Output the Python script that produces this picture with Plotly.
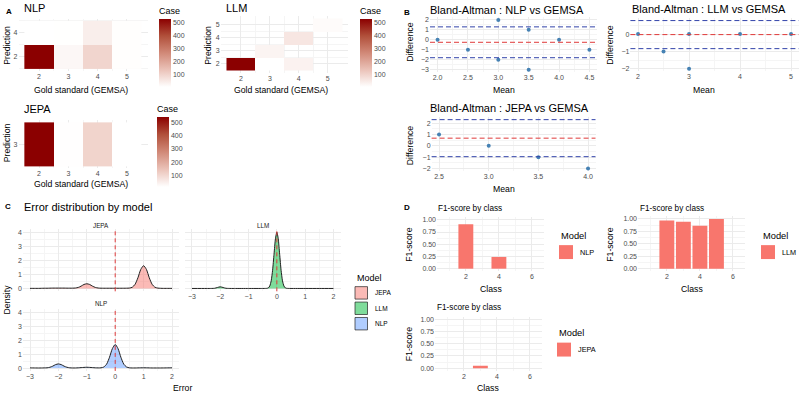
import plotly.graph_objects as go

W, H = 800, 394
FONT = "Liberation Sans, Arial, sans-serif"
GRID = "#EBEBEB"
GRID_MINOR = "#F5F5F5"
TICK_COLOR = "#4D4D4D"


def fx(p):
    return p / W


def fy(p):
    return 1 - p / H


# ---------------- data ----------------
# A: confusion heatmaps (rows = prediction, columns = gold standard)
gold_levels = [2, 3, 4, 5]

nlp_pred_levels = [2, 4]
nlp_cases = [
    [530, 20, 95, 6],
    [3, 4, 40, 6],
]
llm_pred_levels = [2, 3, 4, 5]
llm_cases = [
    [530, 6, 35, None],
    [None, 30, None, None],
    [None, None, 60, None],
    [None, None, None, 15],
]
jepa_pred_levels = [3]
jepa_cases = [[536, 12, 105, 10]]
case_ticks = [100, 200, 300, 400, 500]

# B: Bland-Altman
ba_nlp_mean = [2.0, 2.5, 3.0, 3.0, 3.5, 3.5, 4.0, 4.5]
ba_nlp_diff = [0, -1, 2, -2, 1, -3, 0, -1]
ba_nlp_bias = -0.25
ba_nlp_loa = [1.3, -1.8]

ba_llm_mean = [2.0, 2.5, 3.0, 3.0, 4.0, 5.0]
ba_llm_diff = [0, -1, 0, -2, 0, 0]
ba_llm_bias = -0.03
ba_llm_loa = [0.78, -0.84]

ba_jepa_mean = [2.5, 3.0, 3.5, 4.0]
ba_jepa_diff = [1, 0, -1, -2]
ba_jepa_bias = 0.67
ba_jepa_loa = [2.3, -0.96]

# C: error density curves
models = ["JEPA", "LLM", "NLP"]
err_zero = 0
jepa_err_x = [-3.0, -2.9, -2.8, -2.7, -2.6, -2.5, -2.4, -2.3, -2.2, -2.1, -2.0, -1.9, -1.8, -1.7, -1.6,
              -1.5, -1.4, -1.3, -1.2, -1.1, -1.0, -0.9, -0.8, -0.7, -0.6, -0.5, -0.4, -0.3, -0.2, -0.1,
              0.0, 0.1, 0.2, 0.3, 0.4, 0.5, 0.6, 0.7, 0.8, 0.9, 1.0, 1.1, 1.2, 1.3, 1.4, 1.5, 1.6, 1.7,
              1.8, 1.9, 2.0]
jepa_density = [0.01, 0.01, 0.01, 0.01, 0.015, 0.02, 0.02, 0.025, 0.03, 0.03, 0.03, 0.03, 0.03, 0.025, 0.025,
                0.025, 0.035, 0.077, 0.17, 0.29, 0.34, 0.29, 0.17, 0.077, 0.035, 0.022, 0.02, 0.02, 0.02, 0.02,
                0.02, 0.02, 0.02, 0.02, 0.022, 0.032, 0.09, 0.30, 0.77, 1.37, 1.64, 1.37, 0.77, 0.30, 0.09, 0.03,
                0.015, 0.01, 0.01, 0.01, 0.01]

llm_err_x = [-3.0, -2.5, -2.3, -2.2, -2.1, -2.0, -1.9, -1.8, -1.7, -1.5, -1.0, -0.5, -0.4, -0.35, -0.3,
             -0.25, -0.2, -0.15, -0.1, -0.05, 0.0, 0.05, 0.1, 0.15, 0.2, 0.25, 0.3, 0.35, 0.4, 0.5, 1.0,
             1.5, 2.0]
llm_density = [0.003, 0.003, 0.005, 0.016, 0.073, 0.12, 0.073, 0.016, 0.005, 0.003, 0.003, 0.003, 0.006,
               0.012, 0.045, 0.18, 0.55, 1.31, 2.46, 3.57, 4.05, 3.57, 2.46, 1.31, 0.55, 0.18, 0.045, 0.012,
               0.006, 0.003, 0.003, 0.003, 0.003]

nlp_err_x = jepa_err_x
nlp_density = [0.015, 0.013, 0.01, 0.008, 0.01, 0.015, 0.02, 0.06, 0.14, 0.25, 0.30, 0.25, 0.14, 0.06, 0.02,
               0.01, 0.01, 0.02, 0.035, 0.05, 0.06, 0.05, 0.035, 0.02, 0.015, 0.02, 0.08, 0.29, 0.78, 1.40,
               1.70, 1.40, 0.78, 0.29, 0.08, 0.02, 0.01, 0.01, 0.015, 0.02, 0.022, 0.02, 0.015, 0.01, 0.01,
               0.01, 0.01, 0.012, 0.015, 0.018, 0.02]

# D: F1-score by class
f1_class_limits = [1, 6]
f1_nlp_class = [2, 4]
f1_nlp = [0.91, 0.24]
f1_llm_class = [2, 3, 4, 5]
f1_llm = [0.97, 0.94, 0.86, 1.00]
f1_jepa_class = [3]
f1_jepa = [0.05]
f1_class_ticks = [2, 4, 6]
f1_score_ticks = [0, 0.25, 0.5, 0.75, 1.0]

# ---------------- styling helpers ----------------
HEAT_CS = [[0, "#FFFFFF"], [0.25, "#EBC3B9"], [0.5, "#D18978"], [0.75, "#B1503B"], [1, "#8B0000"]]
MODEL_FILL = {"JEPA": "rgba(248,118,109,0.5)", "LLM": "rgba(0,186,56,0.5)", "NLP": "rgba(97,156,255,0.5)"}
BAR_COLOR = "#F8766D"
RED = "#E03A3A"
BLUE = "#3344AA"
POINT = "#4682B4"
BAR_W = 0.9


def expand(lo, hi, m=0.05):
    r = hi - lo
    return [lo - m * r, hi + m * r]


def tile_range(levels):
    res = min([b - a for a, b in zip(levels[:-1], levels[1:])], default=1)
    return expand(min(levels) - res / 2, max(levels) + res / 2)


def xaxis(l, r, rng, ticks, anchor, show=True, minor=None, fmt=None):
    d = dict(domain=[fx(l), fx(r)], range=rng, tickvals=ticks, showticklabels=show, anchor=anchor,
             showgrid=True, gridcolor=GRID, gridwidth=0.8, zeroline=False, showline=False, ticks="",
             tickfont=dict(size=7, color=TICK_COLOR, family=FONT), fixedrange=True)
    if minor is not None:
        d["minor"] = dict(tickvals=minor, showgrid=True, gridcolor=GRID_MINOR, gridwidth=0.5, ticks="")
    if fmt:
        d["tickformat"] = fmt
    return d


def yaxis(t, b, rng, ticks, anchor, show=True, minor=None, fmt=None):
    d = xaxis(0, 0, rng, ticks, anchor, show, minor, fmt)
    d["domain"] = [fy(b), fy(t)]
    return d


fig = go.Figure()

# ---------------- A: heatmaps ----------------
def heat(z, y, xa, ya, cb_x, cb_top, cb_len):
    return go.Heatmap(
        z=z, x=gold_levels, y=y, xaxis=xa, yaxis=ya, colorscale=HEAT_CS, hoverongaps=False,
        colorbar=dict(
            title=dict(text="Case", side="top", font=dict(size=9, color="black", family=FONT)),
            x=fx(cb_x), xanchor="left", y=fy(cb_top), yanchor="top", len=cb_len, lenmode="pixels",
            thickness=12, thicknessmode="pixels", outlinewidth=0, ticks="", tickvals=case_ticks,
            tickfont=dict(size=7, color=TICK_COLOR, family=FONT), xpad=0, ypad=0),
    )


fig.add_trace(heat(nlp_cases, nlp_pred_levels, "x", "y", 159, 3, 83))
fig.add_trace(heat(llm_cases, llm_pred_levels, "x2", "y2", 360, 3, 83))
fig.add_trace(heat(jepa_cases, jepa_pred_levels, "x3", "y3", 157, 102, 85))

# ---------------- B: Bland-Altman ----------------
def ba_points(mx, dy, xa, ya):
    return go.Scatter(x=mx, y=dy, mode="markers", xaxis=xa, yaxis=ya, showlegend=False,
                      marker=dict(color=POINT, size=4, line=dict(width=0)))


fig.add_trace(ba_points(ba_nlp_mean, ba_nlp_diff, "x4", "y4"))
fig.add_trace(ba_points(ba_llm_mean, ba_llm_diff, "x5", "y5"))
fig.add_trace(ba_points(ba_jepa_mean, ba_jepa_diff, "x6", "y6"))

# ---------------- C: density ----------------
def dens(xv, yv, name, xa, ya):
    return go.Scatter(x=xv, y=yv, mode="lines", xaxis=xa, yaxis=ya, fill="tozeroy",
                      fillcolor=MODEL_FILL[name], line=dict(color="#222222", width=1, shape="spline",
                                                            smoothing=0.6),
                      showlegend=False, name=name)


fig.add_trace(dens(jepa_err_x, jepa_density, "JEPA", "x7", "y7"))
fig.add_trace(dens(llm_err_x, llm_density, "LLM", "x8", "y8"))
fig.add_trace(dens(nlp_err_x, nlp_density, "NLP", "x9", "y9"))

# ---------------- D: F1 bars ----------------
def f1bar(cx, v, name, xa, ya):
    return go.Bar(x=cx, y=v, name=name, xaxis=xa, yaxis=ya, width=BAR_W, showlegend=False,
                  marker=dict(color=BAR_COLOR, line=dict(width=0)))


fig.add_trace(f1bar(f1_nlp_class, f1_nlp, "NLP", "x10", "y10"))
fig.add_trace(f1bar(f1_llm_class, f1_llm, "LLM", "x11", "y11"))
fig.add_trace(f1bar(f1_jepa_class, f1_jepa, "JEPA", "x12", "y12"))

# ---------------- axes ----------------
hx = tile_range(gold_levels)
gmin = [2.5, 3.5, 4.5]
layout_axes = {}
layout_axes["xaxis"] = xaxis(18.5, 147.5, hx, gold_levels, "y", minor=gmin)
layout_axes["yaxis"] = yaxis(17.6, 70.4, tile_range(nlp_pred_levels), nlp_pred_levels, "x", minor=[1, 3, 5])
layout_axes["xaxis2"] = xaxis(220.7, 348, hx, gold_levels, "y2", minor=gmin)
layout_axes["yaxis2"] = yaxis(15, 72, tile_range(llm_pred_levels), llm_pred_levels, "x2", minor=gmin)
layout_axes["xaxis3"] = xaxis(18.5, 147.5, hx, gold_levels, "y3", minor=gmin)
layout_axes["yaxis3"] = yaxis(119.8, 168.2, tile_range(jepa_pred_levels), jepa_pred_levels, "x3")


def ba_y(diff, bias, loa):
    vals = list(diff) + [bias] + list(loa)
    return expand(min(vals), max(vals))


layout_axes["xaxis4"] = xaxis(430, 597, expand(min(ba_nlp_mean), max(ba_nlp_mean)),
                              [2.0, 2.5, 3.0, 3.5, 4.0, 4.5], "y4", fmt=".1f",
                              minor=[2.25, 2.75, 3.25, 3.75, 4.25])
layout_axes["yaxis4"] = yaxis(16.5, 71.5, ba_y(ba_nlp_diff, ba_nlp_bias, ba_nlp_loa), [-3, -2, -1, 0, 1, 2],
                              "x4", minor=[-2.5, -1.5, -0.5, 0.5, 1.5])
layout_axes["xaxis5"] = xaxis(630.4, 798.7, expand(min(ba_llm_mean), max(ba_llm_mean)), [2, 3, 4, 5], "y5",
                              minor=[2.5, 3.5, 4.5])
layout_axes["yaxis5"] = yaxis(17.25, 70.5, ba_y(ba_llm_diff, ba_llm_bias, ba_llm_loa), [-2, -1, 0], "x5",
                              minor=[-1.5, -0.5, 0.5])
layout_axes["xaxis6"] = xaxis(431.6, 595.5, expand(min(ba_jepa_mean), max(ba_jepa_mean)),
                              [2.5, 3.0, 3.5, 4.0], "y6", fmt=".1f", minor=[2.75, 3.25, 3.75])
layout_axes["yaxis6"] = yaxis(116.8, 170.8, ba_y(ba_jepa_diff, ba_jepa_bias, ba_jepa_loa), [-2, -1, 0, 1, 2],
                              "x6", minor=[-1.5, -0.5, 0.5, 1.5])

err_rng = expand(-3, 2)
dens_rng = expand(0, max(max(jepa_density), max(llm_density), max(nlp_density)))
err_ticks = [-3, -2, -1, 0, 1, 2]
err_minor = [-2.5, -1.5, -0.5, 0.5, 1.5]
d_ticks = [0, 1, 2, 3, 4]
d_minor = [0.5, 1.5, 2.5, 3.5]
layout_axes["xaxis7"] = xaxis(22.9, 179.1, err_rng, err_ticks, "y7", show=False, minor=err_minor)
layout_axes["yaxis7"] = yaxis(229.5, 291.8, dens_rng, d_ticks, "x7", minor=d_minor)
layout_axes["xaxis8"] = xaxis(184.9, 340.5, err_rng, err_ticks, "y8", minor=err_minor)
layout_axes["yaxis8"] = yaxis(229.5, 291.8, dens_rng, d_ticks, "x8", show=False, minor=d_minor)
layout_axes["xaxis9"] = xaxis(22.9, 179.1, err_rng, err_ticks, "y9", minor=err_minor)
layout_axes["yaxis9"] = yaxis(309.5, 371.8, dens_rng, d_ticks, "x9", minor=d_minor)

f1x = expand(f1_class_limits[0] - BAR_W / 2, f1_class_limits[1] + BAR_W / 2)
f1y = expand(0, 1)
f1_minor_y = [0.125, 0.375, 0.625, 0.875]
layout_axes["xaxis10"] = xaxis(437, 544.3, f1x, f1_class_ticks, "y10", minor=[1, 3, 5])
layout_axes["yaxis10"] = yaxis(217.5, 271.5, f1y, f1_score_ticks, "x10", fmt=".2f", minor=f1_minor_y)
layout_axes["xaxis11"] = xaxis(638, 745.3, f1x, f1_class_ticks, "y11", minor=[1, 3, 5])
layout_axes["yaxis11"] = yaxis(216.5, 271.5, f1y, f1_score_ticks, "x11", fmt=".2f", minor=f1_minor_y)
layout_axes["xaxis12"] = xaxis(435, 542.3, f1x, f1_class_ticks, "y12", minor=[1, 3, 5])
layout_axes["yaxis12"] = yaxis(317.5, 371.5, f1y, f1_score_ticks, "x12", fmt=".2f", minor=f1_minor_y)

# ---------------- reference lines ----------------
shapes = []
dash = "5px,3px"
for k, bias, loa in [(4, ba_nlp_bias, ba_nlp_loa), (5, ba_llm_bias, ba_llm_loa), (6, ba_jepa_bias, ba_jepa_loa)]:
    shapes.append(dict(type="line", xref=f"x{k} domain", x0=0, x1=1, yref=f"y{k}", y0=bias, y1=bias,
                       line=dict(color=RED, width=1, dash=dash)))
    for v in loa:
        shapes.append(dict(type="line", xref=f"x{k} domain", x0=0, x1=1, yref=f"y{k}", y0=v, y1=v,
                           line=dict(color=BLUE, width=1, dash=dash)))
for k in (7, 8, 9):
    shapes.append(dict(type="line", xref=f"x{k}", x0=err_zero, x1=err_zero, yref=f"y{k} domain", y0=0, y1=1,
                       line=dict(color=RED, width=1, dash="4px,3px"), layer="above"))

# ---------------- text ----------------
ann = []


def text(t, x, y, size, xanchor="left", yanchor="middle", bold=False, angle=0, color="black"):
    ann.append(dict(text=f"<b>{t}</b>" if bold else t, x=fx(x), y=fy(y), xref="paper", yref="paper",
                    xanchor=xanchor, yanchor=yanchor, showarrow=False, textangle=angle,
                    font=dict(size=size, color=color, family=FONT)))


for t, x, y in [("A", 4, 11), ("B", 402, 12), ("C", 3, 207), ("D", 402, 208)]:
    text(t, x, y, 8, bold=True)
text("NLP", 22, 7.5, 11)
text("LLM", 224, 7.5, 11)
text("JEPA", 22, 109, 11)
text("Bland-Altman : NLP vs GEMSA", 428, 9, 11)
text("Bland-Altman : LLM vs GEMSA", 630, 8, 11)
text("Bland-Altman : JEPA vs GEMSA", 428, 107.5, 11)
text("Error distribution by model", 22, 207.5, 11)
for x, y in [(436, 208.5), (638, 208.5), (435, 308)]:
    text("F1-score by class", x, y, 8.2)

for x, y in [(80.5, 89), (281, 89), (80.5, 184)]:
    text("Gold standard (GEMSA)", x, y, 8.7, xanchor="center")
for x, y in [(7, 45), (208, 45), (7, 143)]:
    text("Prediction", x, y, 8.7, xanchor="center", angle=-90)
for x, y in [(504, 89), (704, 89), (504, 189)]:
    text("Mean", x, y, 8.7, xanchor="center")
for x, y in [(410, 41), (610, 44), (410, 145)]:
    text("Difference", x, y, 8.7, xanchor="center", angle=-90)
text("Density", 7, 300, 8.7, xanchor="center", angle=-90)
text("Error", 182.5, 389, 8.7, xanchor="center")
for x, y in [(491, 289), (692, 289), (488, 389)]:
    text("Class", x, y, 8.7, xanchor="center")
for x, y in [(409, 245), (610, 245), (409, 345)]:
    text("F1-score", x, y, 8.7, xanchor="center", angle=-90)
for t, x, y in [("JEPA", 101, 226), ("LLM", 262.7, 226), ("NLP", 101, 304)]:
    text(t, x, y, 6.3, xanchor="center", color="#1A1A1A")


# ---------------- legends (key swatches + labels) ----------------
def legend_block(x, y_title, names, fills, key, step, title_size, label_size, outline):
    text("Model", x, y_title, title_size)
    y0 = y_title + title_size * 0.9 + 1
    for i, (nm, fc) in enumerate(zip(names, fills)):
        top = y0 + i * step
        shapes.append(dict(type="rect", xref="paper", yref="paper", x0=fx(x), x1=fx(x + key),
                           y0=fy(top + key), y1=fy(top), fillcolor=fc,
                           line=dict(color="#222222" if outline else fc, width=0.7 if outline else 0)))
        text(nm, x + key + 5, top + key / 2, label_size)


legend_block(355, 278, models, [MODEL_FILL[m] for m in models], 12.5, 15.5, 9, 6.5, True)
legend_block(559, 236, ["NLP"], [BAR_COLOR], 14, 17, 9.3, 7.3, False)
legend_block(761, 236, ["LLM"], [BAR_COLOR], 14, 17, 9.3, 7.3, False)
legend_block(557, 334, ["JEPA"], [BAR_COLOR], 14, 17, 9.3, 7.3, False)

fig.update_layout(
    width=W, height=H, margin=dict(l=0, r=0, t=0, b=0), paper_bgcolor="white", plot_bgcolor="white",
    font=dict(family=FONT), showlegend=False, barmode="overlay",
    shapes=shapes, annotations=ann, **layout_axes,
)

fig.write_html("out.html")
